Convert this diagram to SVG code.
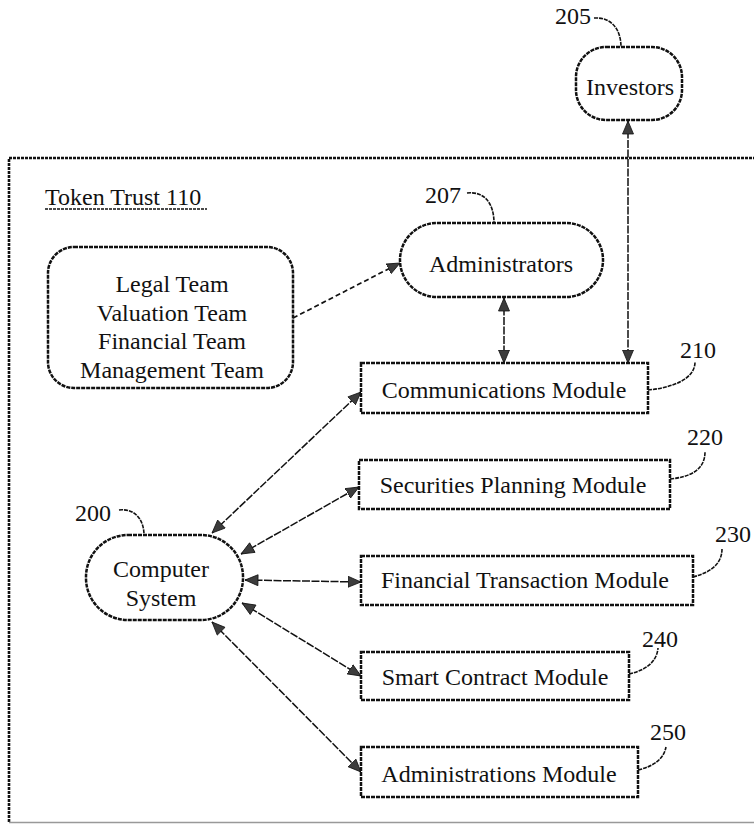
<svg xmlns="http://www.w3.org/2000/svg" width="754" height="824" viewBox="0 0 754 824">
  <style>
    .box { fill: #fff; stroke: #111; stroke-width: 2.5; stroke-dasharray: 4 1; }
    .frame { fill: none; stroke: #111; stroke-width: 2.6; stroke-dasharray: 3 1; }
    .lbl { font-family: "Liberation Serif", "Times New Roman", serif; font-size: 24px; fill: #111; }
    .mid { text-anchor: middle; }
    .lead { fill: none; stroke: #111; stroke-width: 1.6; stroke-dasharray: 4 1; }
    .conn { fill: none; stroke: #111; stroke-width: 1.5; stroke-dasharray: 8 1.5; }
    .dash { fill: none; stroke: #111; stroke-width: 1.7; stroke-dasharray: 5 3; }
  </style>
  <defs>
    <marker id="arrowEnd" markerUnits="userSpaceOnUse" markerWidth="14" markerHeight="12" refX="13" refY="6" orient="auto">
      <path d="M0,0.5 L13,6 L0,11.5 z" fill="#3c3c3c" stroke="#111" stroke-width="0.8"/>
    </marker>
    <marker id="arrowStart" markerUnits="userSpaceOnUse" markerWidth="14" markerHeight="12" refX="0" refY="6" orient="auto">
      <path d="M13,0.5 L0,6 L13,11.5 z" fill="#3c3c3c" stroke="#111" stroke-width="0.8"/>
    </marker>
  </defs>

  <rect width="754" height="824" fill="#fff"/>

  <!-- enclosing trust boundary -->
  <g id="token-trust">
    <path class="frame" d="M9,822 V158 H754"/>
    <line x1="9" y1="822.5" x2="754" y2="822.5" stroke="#999" stroke-width="1.5"/>
    <text class="lbl" x="45" y="205">Token Trust 110</text>
    <line x1="45" y1="209" x2="207" y2="209" stroke="#111" stroke-width="1.3" stroke-dasharray="3 1"/>
  </g>

  <!-- connectors -->
  <g id="connectors">
    <line class="conn" x1="628" y1="121" x2="628" y2="363" marker-start="url(#arrowStart)" marker-end="url(#arrowEnd)"/>
    <line class="conn" x1="504" y1="298" x2="504" y2="363" marker-start="url(#arrowStart)" marker-end="url(#arrowEnd)"/>
    <line class="dash" x1="293" y1="318" x2="400" y2="263" marker-end="url(#arrowEnd)"/>
    <line class="conn" x1="212" y1="533" x2="361" y2="392" marker-start="url(#arrowStart)" marker-end="url(#arrowEnd)"/>
    <line class="conn" x1="241" y1="554" x2="359" y2="487" marker-start="url(#arrowStart)" marker-end="url(#arrowEnd)"/>
    <line class="conn" x1="245" y1="580" x2="361" y2="582" marker-start="url(#arrowStart)" marker-end="url(#arrowEnd)"/>
    <line class="conn" x1="242" y1="603" x2="361" y2="676" marker-start="url(#arrowStart)" marker-end="url(#arrowEnd)"/>
    <line class="conn" x1="212" y1="622" x2="361" y2="772" marker-start="url(#arrowStart)" marker-end="url(#arrowEnd)"/>
  </g>

  <g id="investors">
    <rect class="box" x="576" y="47" width="106" height="73" rx="30"/>
    <text class="lbl mid" x="630" y="95">Investors</text>
    <text class="lbl" x="555" y="24">205</text>
    <path class="lead" d="M594,18 C612,17 621,30 621,47"/>
  </g>

  <g id="teams">
    <rect class="box" x="48" y="247" width="245" height="141" rx="26"/>
    <text class="lbl mid" x="172" y="292">Legal Team</text>
    <text class="lbl mid" x="172" y="321">Valuation Team</text>
    <text class="lbl mid" x="172" y="349">Financial Team</text>
    <text class="lbl mid" x="172" y="378">Management Team</text>
  </g>

  <g id="administrators">
    <rect class="box" x="400" y="223" width="203" height="74" rx="37"/>
    <text class="lbl mid" x="501" y="272">Administrators</text>
    <text class="lbl" x="425" y="203">207</text>
    <path class="lead" d="M467,193 C485,191 494,204 494,223"/>
  </g>

  <g id="communications-module">
    <rect class="box" x="361" y="363" width="287" height="50"/>
    <text class="lbl mid" x="504" y="398">Communications Module</text>
    <text class="lbl" x="680" y="358">210</text>
    <path class="lead" d="M648,390 C670,388 695,380 695,362"/>
  </g>

  <g id="securities-planning-module">
    <rect class="box" x="359" y="460" width="311" height="49"/>
    <text class="lbl mid" x="513" y="493">Securities Planning Module</text>
    <text class="lbl" x="687" y="445">220</text>
    <path class="lead" d="M670,479 C690,477 705,470 705,452"/>
  </g>

  <g id="financial-transaction-module">
    <rect class="box" x="361" y="556" width="332" height="49"/>
    <text class="lbl mid" x="525" y="588">Financial Transaction Module</text>
    <text class="lbl" x="715" y="542">230</text>
    <path class="lead" d="M693,577 C712,572 722,563 722,549"/>
  </g>

  <g id="smart-contract-module">
    <rect class="box" x="361" y="652" width="268" height="48"/>
    <text class="lbl mid" x="495" y="685">Smart Contract Module</text>
    <text class="lbl" x="642" y="647">240</text>
    <path class="lead" d="M629,674 C647,670 657,661 658,648"/>
  </g>

  <g id="administrations-module">
    <rect class="box" x="361" y="747" width="277" height="50"/>
    <text class="lbl mid" x="499" y="782">Administrations Module</text>
    <text class="lbl" x="650" y="740">250</text>
    <path class="lead" d="M638,770 C655,766 664,758 666,747"/>
  </g>

  <g id="computer-system">
    <rect class="box" x="86" y="535" width="157" height="85" rx="42"/>
    <text class="lbl mid" x="161" y="577">Computer</text>
    <text class="lbl mid" x="161" y="606">System</text>
    <text class="lbl" x="75" y="521">200</text>
    <path class="lead" d="M119,510 C135,508 144,520 144,535"/>
  </g>
</svg>
